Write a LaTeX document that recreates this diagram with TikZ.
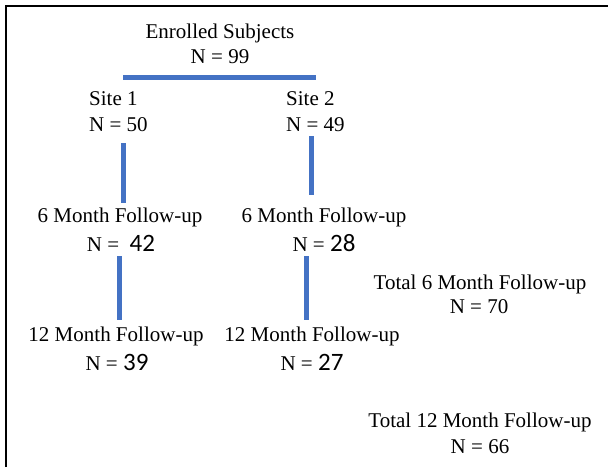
\documentclass[tikz,border=0pt]{standalone}
\usepackage{fontspec}
\setmainfont{Liberation Serif}
\newfontfamily\numfont{Carlito}
\usepackage{xcolor}
\definecolor{barblue}{HTML}{4472C4}
\newcommand{\cnum}[1]{{\numfont\fontsize{25}{25}\selectfont #1}}

\begin{document}
\begin{tikzpicture}[
    x=1pt, y=-1pt,
    lbl/.style={inner sep=0pt, font=\fontsize{21}{25}\selectfont},
    bar/.style={draw=barblue, line width=5pt},
    frame/.style={draw=black, line width=2pt}]
    \useasboundingbox (0,0) rectangle (608,467);
    \draw[frame] (6,467) -- (6,6) -- (608,6);
    % top of the tree
    \node[lbl] (enrol)  at (220,33) {Enrolled Subjects};
    \node[lbl] (enrolN) at (220,57) {N = 99};
    \node[lbl, anchor=west] (site1)  at (89,99)  {Site 1};
    \node[lbl, anchor=west] (site1N) at (89,125) {N = 50};
    \node[lbl, anchor=west] (site2)  at (286,99)  {Site 2};
    \node[lbl, anchor=west] (site2N) at (286,125) {N = 49};
    % follow-up
    \node[lbl] (six1)  at (120,217) {6 Month Follow-up};
    \node[lbl] (six1N) at (121,243) {N = \ \cnum{42}};
    \node[lbl] (six2)  at (324,217) {6 Month Follow-up};
    \node[lbl] (six2N) at (324,243) {N = \cnum{28}};
    \node[lbl] (twelve1)  at (116,336) {12 Month Follow-up};
    \node[lbl] (twelve1N) at (117,362) {N = \cnum{39}};
    \node[lbl] (twelve2)  at (312,336) {12 Month Follow-up};
    \node[lbl] (twelve2N) at (312,362) {N = \cnum{27}};
    % totals
    \node[lbl] (tot6)   at (480,284) {Total 6 Month Follow-up};
    \node[lbl] (tot6N)  at (479,307) {N = 70};
    \node[lbl] (tot12)  at (480,422) {Total 12 Month Follow-up};
    \node[lbl] (tot12N) at (480,447) {N = 66};
    % bar ends
    \coordinate (hl) at (123,77);  \coordinate (hr) at (316,77);
    \coordinate (a1) at (123,143); \coordinate (a2) at (123,203);
    \coordinate (b1) at (311,136); \coordinate (b2) at (311,195);
    \coordinate (c1) at (119,256); \coordinate (c2) at (119,320);
    \coordinate (d1) at (306,256); \coordinate (d2) at (306,320);
    \foreach \s/\e in {hl/hr,a1/a2,b1/b2,c1/c2,d1/d2} {\draw[bar] (\s) -- (\e);}
\end{tikzpicture}
\end{document}
